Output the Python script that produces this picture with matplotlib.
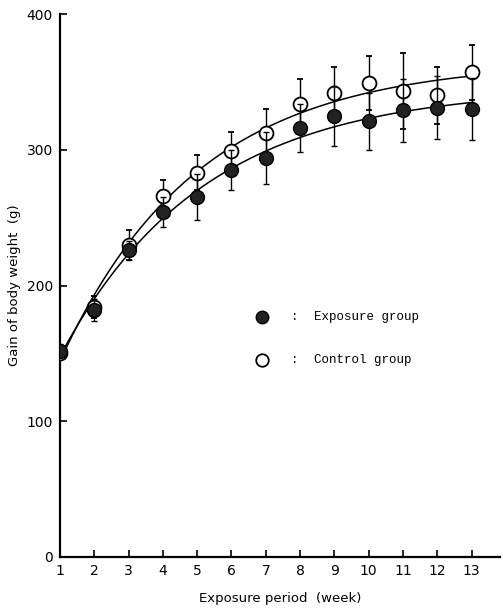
import numpy as np
import matplotlib
matplotlib.use('Agg')
import matplotlib.pyplot as plt

# weeks of exposure
weeks = np.arange(1, 14)

# mean gain of body weight (g)
exposure_mean = [152, 182, 226, 254, 265, 285, 294, 316, 325, 321, 329, 331, 330]
exposure_sd = [5, 8, 7, 11, 17, 15, 19, 18, 22, 21, 23, 23, 23]
control_mean = [150, 184, 230, 266, 283, 299, 312, 334, 342, 349, 343, 340, 357]
control_sd = [4, 8, 11, 12, 13, 14, 18, 18, 19, 20, 28, 21, 20]


def growth_fit(x, y):
    # fit y = A - B*exp(-k x): scan k, least squares for A and B
    x = np.asarray(x, float)
    y = np.asarray(y, float)
    best = None
    for k in np.linspace(0.05, 0.6, 221):
        M = np.column_stack([np.ones_like(x), -np.exp(-k * x)])
        sol, res, *_ = np.linalg.lstsq(M, y, rcond=None)
        err = np.sum((M @ sol - y) ** 2)
        if best is None or err < best[0]:
            best = (err, k, sol)
    _, k, (a, b) = best
    return lambda t: a - b * np.exp(-k * t)


fig = plt.figure(figsize=(5.03, 6.14), dpi=100)
ax = fig.add_axes([60 / 503, 57 / 614, 440 / 503, 543 / 614])

# smooth fitted growth curves
xs = np.linspace(1, 13, 200)
for mean in (exposure_mean, control_mean):
    f = growth_fit(weeks, mean)
    ax.plot(xs, f(xs), color='black', lw=1.1, zorder=2)

ax.errorbar(weeks, exposure_mean, yerr=exposure_sd, fmt='o', ms=10,
            mfc='#222222', mec='black', ecolor='black', elinewidth=1,
            capsize=2.5, zorder=4)
ax.errorbar(weeks, control_mean, yerr=control_sd, fmt='o', ms=10,
            mfc='white', mec='black', mew=1.3, ecolor='black', elinewidth=1,
            capsize=2.5, zorder=3)

# legend drawn inside the plot
ax.plot([6.9], [177], 'o', ms=9, mfc='#222222', mec='black')
ax.plot([6.9], [145], 'o', ms=9, mfc='white', mec='black', mew=1.3)
mono = 'Liberation Mono'
ax.text(7.75, 177, ':', family=mono, fontsize=9, va='center')
ax.text(8.4, 177, 'Exposure group', family=mono, fontsize=9, va='center')
ax.text(7.75, 145, ':', family=mono, fontsize=9, va='center')
ax.text(8.4, 145, 'Control group', family=mono, fontsize=9, va='center')

ax.set_xlim(1, 13.83)
ax.set_ylim(0, 400)
ax.set_xticks(weeks)
ax.set_yticks([0, 100, 200, 300, 400])
ax.tick_params(direction='in', length=5, width=1.2, labelsize=10, pad=5)
for s in ('top', 'right'):
    ax.spines[s].set_visible(False)
for s in ('left', 'bottom'):
    ax.spines[s].set_linewidth(1.6)

ax.set_xlabel('Exposure period  (week)', fontsize=9.5, labelpad=10)
ax.set_ylabel('Gain of body weight  (g)', fontsize=9.5, labelpad=4)

fig.savefig('out.png', dpi=100)
